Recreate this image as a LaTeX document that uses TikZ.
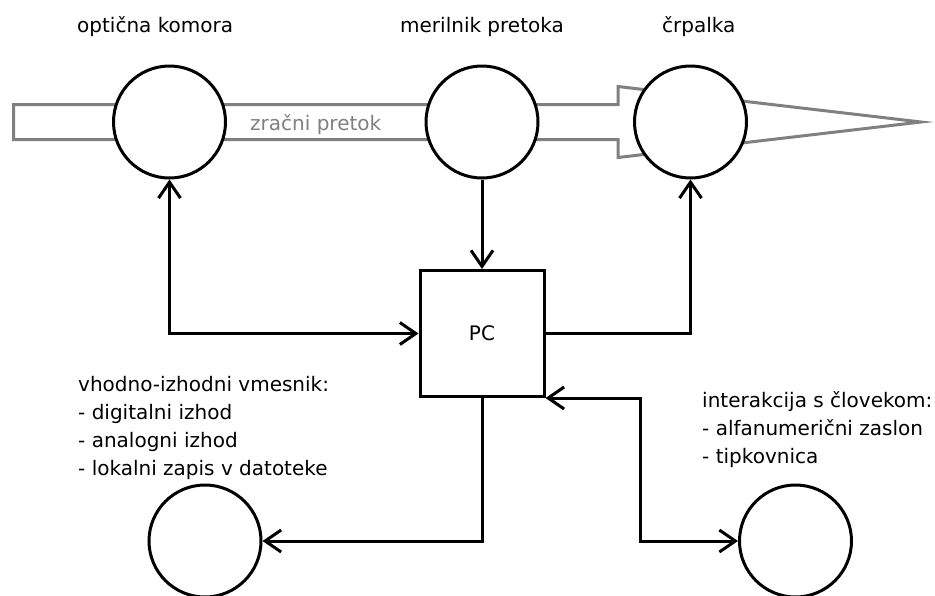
\documentclass[tikz,border=0pt]{standalone}
\usepackage{fontspec}
\setmainfont{DejaVu Sans}
\usetikzlibrary{arrows.meta}
\tikzset{barb/.tip={Straight Barb[length=16pt,width=22pt,line width=3pt]}}
\begin{document}
\begin{tikzpicture}[x=1pt,y=-1pt,
  txt/.style={font=\fontsize{20}{28}\selectfont, inner sep=0pt},
  unit/.style={circle, draw=black, line width=3pt, fill=white, minimum size=112pt, inner sep=0pt},
  pcbox/.style={rectangle, draw=black, line width=3pt, fill=white, minimum width=124pt, minimum height=126pt, inner sep=0pt, font=\fontsize{20}{28}\selectfont},
  flow/.style={draw=black!50, line width=3pt},
  link/.style={draw=black, line width=3pt}
]
\useasboundingbox (0,0) rectangle (935,595);

% air-flow arrow in the background
\draw[flow] (13.5,104.5) -- (618,104.5) -- (618,86.5) -- (921,122)
  -- (618,157.5) -- (618,139.5) -- (13.5,139.5) -- cycle;
\node[txt, text=black!50, anchor=base west] (zrak) at (250,130) {zračni pretok};

% measurement chain
\node[unit] (komora) at (169.5,122) {};
\node[unit] (merilnik) at (482,122) {};
\node[unit] (crpalka) at (690.5,122) {};
\node[pcbox] (pc) at (482,333.5) {PC};
\node[unit] (io) at (205,541) {};
\node[unit] (clovek) at (795.5,541) {};

% labels
\node[txt, anchor=base west] (lkomora) at (77,32) {optična komora};
\node[txt, anchor=base west] (lmerilnik) at (400,32) {merilnik pretoka};
\node[txt, anchor=base west] (lcrpalka) at (662,32) {črpalka};
\node[txt, anchor=north west, align=left] (lio) at (78,376.5)
  {vhodno-izhodni vmesnik:\\- digitalni izhod\\- analogni izhod\\- lokalni zapis v datoteke};
\node[txt, anchor=north west, align=left] (lclovek) at (702,391.5)
  {interakcija s človekom:\\- alfanumerični zaslon\\- tipkovnica};

% connections
\coordinate (kolen) at (640,541);
\draw[link, barb-barb] (komora.south) |- (pc.west);
\draw[link, -barb] (merilnik.south) -- (pc.north);
\draw[link, -barb] (pc.east) -| (crpalka.south);
\draw[link, -barb] (pc.south) |- (io.east);
\draw[link, barb-barb] (pc.south east) -| (kolen) -- (clovek.west);
\end{tikzpicture}
\end{document}
